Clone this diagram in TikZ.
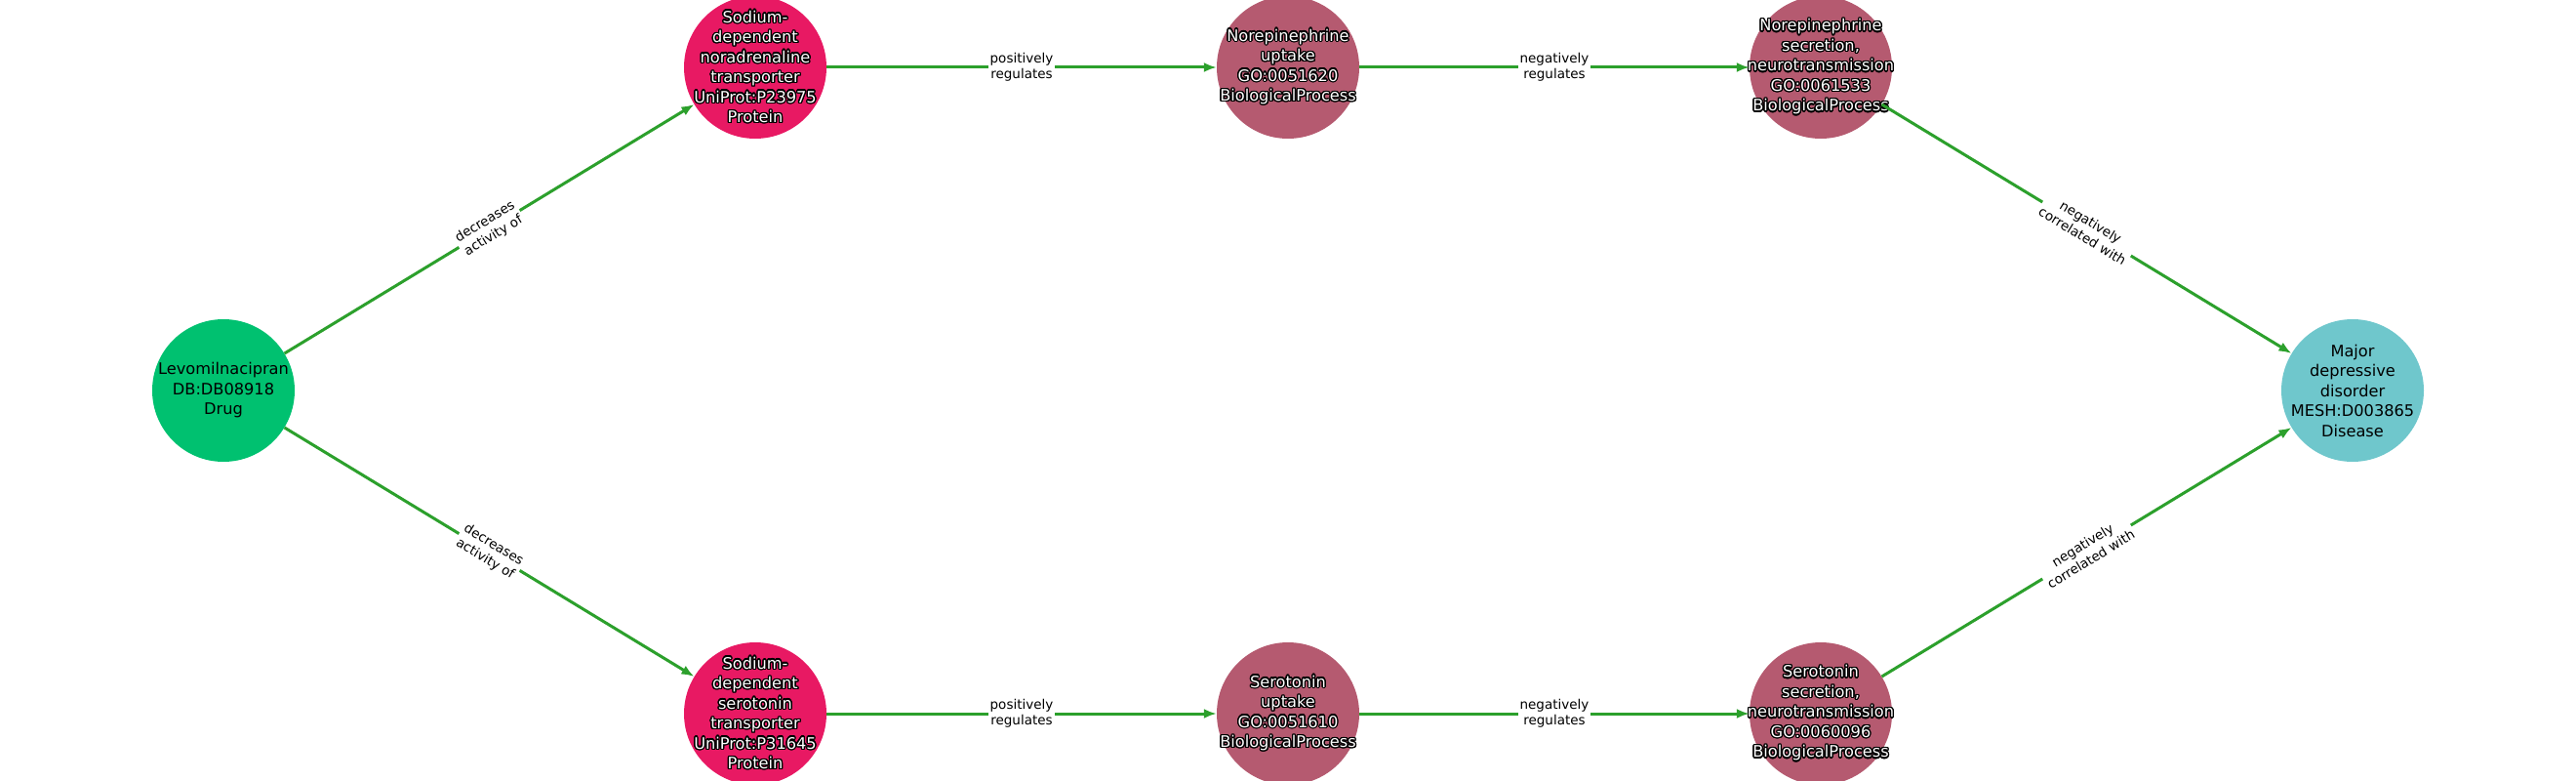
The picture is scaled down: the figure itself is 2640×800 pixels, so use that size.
\documentclass[tikz,border=0pt]{standalone}
\usepackage{fontspec}
\setmainfont{DejaVu Sans}
\usepackage{contour}
\contourlength{1.3pt}
\usepackage{tikz}
\usetikzlibrary{arrows.meta}

\definecolor{drugcol}{RGB}{0,193,112}
\definecolor{protcol}{RGB}{232,25,99}
\definecolor{proccol}{RGB}{181,90,112}
\definecolor{discol}{RGB}{111,199,204}
\definecolor{edgecol}{RGB}{44,160,44}

\newcommand{\halo}[1]{\contour{black}{#1}}

\tikzset{
  ent/.style={circle, minimum size=146pt, inner sep=0pt},
  drug/.style={ent, fill=drugcol},
  prot/.style={ent, fill=protcol},
  proc/.style={ent, fill=proccol},
  dis/.style={ent, fill=discol},
  dtxt/.style={align=center, inner sep=0pt, text=black,
    font=\fontsize{16.2}{20.5}\selectfont},
  wtxt/.style={dtxt, text=white},
  rel/.style={draw=edgecol, line width=3pt, -{Latex[length=13pt,width=10pt]}},
  lab/.style={fill=white, inner sep=2pt, align=center, text=black,
    font=\fontsize{13.5}{16.5}\selectfont}
}

\begin{document}
\begin{tikzpicture}[x=1pt, y=-1pt]
\useasboundingbox (0,0) rectangle (2640,800);
\clip (0,0) rectangle (2640,800);

\node [drug, label={[dtxt]center:{Levomilnacipran\\DB:DB08918\\Drug}}] (levo) at (229,400) {};

\node [prot, label={[wtxt]center:{\halo{Sodium-}\\\halo{dependent}\\\halo{noradrenaline}\\\halo{transporter}\\\halo{UniProt:P23975}\\\halo{Protein}}}] (net) at (774,69) {};
\node [proc, label={[wtxt]center:{\halo{Norepinephrine}\\\halo{uptake}\\\halo{GO:0051620}\\\halo{BiologicalProcess}}}] (neup) at (1320,69) {};
\node [proc, label={[wtxt]center:{\halo{Norepinephrine}\\\halo{secretion,}\\\halo{neurotransmission}\\\halo{GO:0061533}\\\halo{BiologicalProcess}}}] (nesec) at (1866,69) {};

\node [prot, label={[wtxt]center:{\halo{Sodium-}\\\halo{dependent}\\\halo{serotonin}\\\halo{transporter}\\\halo{UniProt:P31645}\\\halo{Protein}}}] (sert) at (774,731) {};
\node [proc, label={[wtxt]center:{\halo{Serotonin}\\\halo{uptake}\\\halo{GO:0051610}\\\halo{BiologicalProcess}}}] (seup) at (1320,731) {};
\node [proc, label={[wtxt]center:{\halo{Serotonin}\\\halo{secretion,}\\\halo{neurotransmission}\\\halo{GO:0060096}\\\halo{BiologicalProcess}}}] (sesec) at (1866,731) {};

\node [dis, label={[dtxt]center:{Major\\depressive\\disorder\\MESH:D003865\\Disease}}] (mdd) at (2411,400) {};

\draw [rel] (levo) -- node [lab, sloped] {decreases\\activity of} (net);
\draw [rel] (net) -- node [lab] {positively\\regulates} (neup);
\draw [rel] (neup) -- node [lab] {negatively\\regulates} (nesec);
\draw [rel] (nesec) -- node [lab, sloped] {negatively\\correlated with} (mdd);

\draw [rel] (levo) -- node [lab, sloped] {decreases\\activity of} (sert);
\draw [rel] (sert) -- node [lab] {positively\\regulates} (seup);
\draw [rel] (seup) -- node [lab] {negatively\\regulates} (sesec);
\draw [rel] (sesec) -- node [lab, sloped] {negatively\\correlated with} (mdd);

\end{tikzpicture}
\end{document}
